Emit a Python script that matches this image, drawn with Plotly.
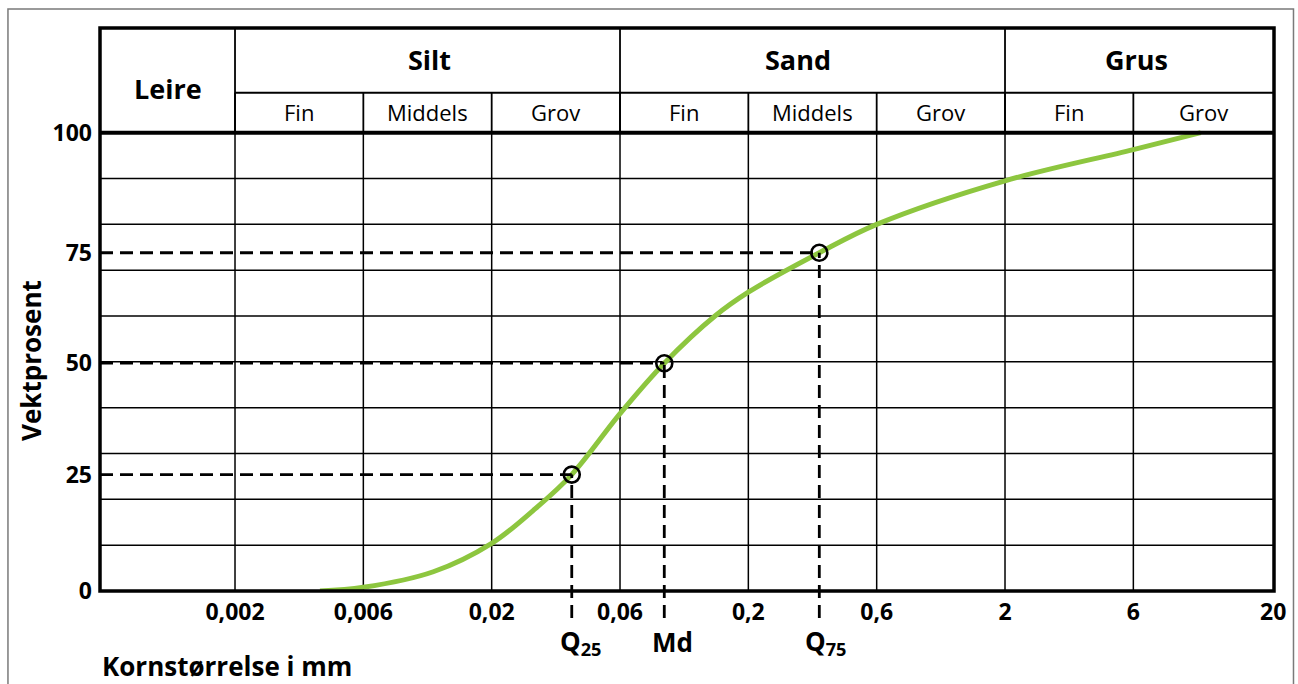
import plotly.graph_objects as go

# ---------------- data ----------------
TICK_LABELS = ["0,002", "0,006", "0,02", "0,06", "0,2", "0,6", "2", "6", "20"]
TICK_POS = [0, 1, 2, 3, 4, 5, 6, 7, 8.09]

Y_TICK_VALS = [0, 25.4, 49.7, 73.8, 100]
Y_TICK_TEXT = ["0", "25", "50", "75", "100"]

CURVE_POS = [0.662, 1.0, 1.545, 2.0, 2.325, 2.624, 3.0, 3.345, 3.74, 4.0,
             4.553, 5.0, 6.0, 7.0, 7.525]
CURVE_PCT = [0.0, 0.8, 4.2, 10.4, 17.6, 25.4, 38.7, 49.7, 60.0, 65.2,
             73.8, 80.0, 89.5, 96.3, 100.0]

Q_POS = [2.624, 3.345, 4.553]
Q_PCT = [25.4, 49.7, 73.8]
Q_LABELS = ["Q<sub>25</sub>", "Md", "Q<sub>75</sub>"]

GROUPS = ["Silt", "Sand", "Grus"]
GROUP_SPAN = [(0, 3), (3, 6), (6, 8.09)]
GROUP_SHIFT = [2, -15, -3]
SUBS = ["Fin", "Middels", "Grov", "Fin", "Middels", "Grov", "Fin", "Grov"]
SUB_SPAN = [(0, 1), (1, 2), (2, 3), (3, 4), (4, 5), (5, 6), (6, 7), (7, 8.09)]
CLAY = "Leire"

# ---------------- geometry / style ----------------
X_MIN, X_MAX = -1.052, 8.096
Y_MIN, Y_MAX = 0, 122.84
HEADER_DIV = 108.7
FONT = "Open Sans"
GREEN = "#8DC63F"

fig = go.Figure()

fig.add_trace(go.Scatter(
    x=CURVE_POS, y=CURVE_PCT, mode="lines",
    line=dict(color=GREEN, width=5, shape="spline", smoothing=1.0),
    hoverinfo="skip", showlegend=False))

shapes = []
# grid
for v in range(10, 100, 10):
    shapes.append(dict(type="line", xref="x", yref="y", x0=X_MIN, x1=X_MAX, y0=v, y1=v,
                       line=dict(color="black", width=1.5), layer="below"))
for p in TICK_POS[:-1]:
    shapes.append(dict(type="line", xref="x", yref="y", x0=p, x1=p, y0=0, y1=100,
                       line=dict(color="black", width=1.5), layer="below"))
# thick 100 line
shapes.append(dict(type="line", xref="x", yref="y", x0=X_MIN, x1=X_MAX, y0=100, y1=100,
                   line=dict(color="black", width=4)))
# header lines
shapes.append(dict(type="line", xref="x", yref="y", x0=TICK_POS[0], x1=X_MAX,
                   y0=HEADER_DIV, y1=HEADER_DIV, line=dict(color="black", width=2)))
for a, b in GROUP_SPAN:
    shapes.append(dict(type="line", xref="x", yref="y", x0=a, x1=a, y0=100, y1=Y_MAX,
                       line=dict(color="black", width=1.8)))
for a, b in SUB_SPAN:
    shapes.append(dict(type="line", xref="x", yref="y", x0=a, x1=a, y0=100, y1=HEADER_DIV,
                       line=dict(color="black", width=1.8)))

# dashed quartile lines
DASH = "13px,7px"
for qx, qy in zip(Q_POS, Q_PCT):
    shapes.append(dict(type="line", xref="x", yref="y", x0=X_MIN, x1=qx, y0=qy, y1=qy,
                       line=dict(color="black", width=2.8, dash=DASH)))
    shapes.append(dict(type="line", xref="x", yref="paper", x0=qx, x1=qx,
                       y0=-0.048, y1=(qy - Y_MIN) / (Y_MAX - Y_MIN),
                       line=dict(color="black", width=2.8, dash=DASH)))

# plot frame
shapes.append(dict(type="rect", xref="paper", yref="paper", x0=0, x1=1, y0=0, y1=1,
                   line=dict(color="black", width=3.5)))
# outer grey frame
shapes.append(dict(type="rect", xref="paper", yref="paper", x0=-0.0784, x1=1.0166,
                   y0=-0.2, y1=1.0337, line=dict(color="#7a7a7a", width=1.5)))

fig.add_trace(go.Scatter(
    x=Q_POS, y=Q_PCT, mode="markers",
    marker=dict(symbol="circle-open", size=16, color="black", line=dict(width=2.6)),
    hoverinfo="skip", showlegend=False))

ann = []
ann.append(dict(x=(X_MIN + TICK_POS[0]) / 2, y=109.6, xref="x", yref="y", text=f"<b>{CLAY}</b>",
                showarrow=False, font=dict(family=FONT, size=27, color="black")))
for g, (a, b), sh in zip(GROUPS, GROUP_SPAN, GROUP_SHIFT):
    ann.append(dict(x=(a + b) / 2, y=116.0, xref="x", yref="y", text=f"<b>{g}</b>",
                    showarrow=False, xshift=sh, font=dict(family=FONT, size=27, color="black")))
for s, (a, b) in zip(SUBS, SUB_SPAN):
    ann.append(dict(x=(a + b) / 2, y=104.5, xref="x", yref="y", text=s,
                    showarrow=False, font=dict(family=FONT, size=22, color="black")))
for qx, lab, dx in zip(Q_POS, Q_LABELS, [9, 8, 7]):
    ann.append(dict(x=qx, y=-0.09, xref="x", yref="paper", text=f"<b>{lab}</b>",
                    showarrow=False, xshift=dx, yanchor="middle",
                    font=dict(family=FONT, size=26, color="black")))
ann.append(dict(x=0, y=-0.133, xref="paper", yref="paper", text="<b>Kornstørrelse i mm</b>",
                showarrow=False, xanchor="left", yanchor="middle",
                font=dict(family=FONT, size=26, color="black")))
ann.append(dict(x=-0.059, y=0.41, xref="paper", yref="paper", text="<b>Vektprosent</b>",
                textangle=-90, showarrow=False, xanchor="center", yanchor="middle",
                font=dict(family=FONT, size=26, color="black")))

fig.update_layout(
    width=1298, height=684,
    margin=dict(l=100, r=24, t=28, b=93),
    paper_bgcolor="white", plot_bgcolor="white",
    shapes=shapes, annotations=ann,
    xaxis=dict(range=[X_MIN, X_MAX], tickvals=TICK_POS, ticktext=[f"<b>{t}</b>" for t in TICK_LABELS],
               showgrid=False, zeroline=False, showline=False, ticks="",
               ticklabelstandoff=5,
               tickfont=dict(family=FONT, size=23, color="black"), fixedrange=True),
    yaxis=dict(range=[Y_MIN, Y_MAX], tickvals=Y_TICK_VALS, ticktext=[f"<b>{t}</b>" for t in Y_TICK_TEXT],
               showgrid=False, zeroline=False, showline=False, ticks="",
               ticklabelstandoff=7,
               tickfont=dict(family=FONT, size=23, color="black"), fixedrange=True),
)

fig.write_html("out.html")
